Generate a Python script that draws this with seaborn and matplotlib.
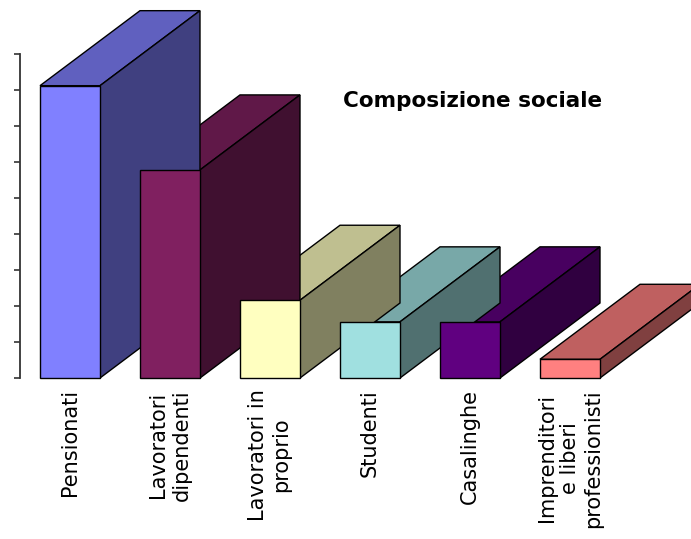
import matplotlib
matplotlib.use("Agg")
import matplotlib.pyplot as plt
import seaborn as sns
import pandas as pd
from matplotlib.patches import Polygon

categories = ["Pensionati", "Lavoratori\ndipendenti", "Lavoratori in\nproprio",
              "Studenti", "Casalinghe", "Imprenditori\ne liberi\nprofessionisti"]
values = [40.6, 28.9, 10.8, 7.8, 7.8, 2.6]
front_colors = ["#8080FF", "#802060", "#FFFFC0", "#A0E0E0", "#600080", "#FF8080"]
y_ticks = [0, 5, 10, 15, 20, 25, 30, 35, 40, 45]
title = "Composizione sociale"

sns.set_theme(style="white")
plt.rcParams["font.family"] = ["DejaVu Sans"]

W, H = 691, 539
fig = plt.figure(figsize=(W / 100, H / 100), dpi=100)
ax = fig.add_axes([20 / W, (H - 378) / H, (W - 20) / W, 324 / H])

df = pd.DataFrame({"cat": categories, "val": values})
sns.barplot(data=df, x="cat", y="val", hue="cat", palette=front_colors,
            width=0.6, edgecolor="black", linewidth=1.0, legend=False,
            saturation=1, ax=ax)

ax.set_xlim(-0.5, (W - 70) / 100)
ax.set_ylim(0, 45)

# depth offset (data units)
dx = 1.0
dy = 75 / (36 / 5)


def shade(c, f):
    r, g, b = matplotlib.colors.to_rgb(c)
    return (r * f, g * f, b * f)


for i, p in enumerate(list(ax.patches)):
    x0 = p.get_x()
    w = p.get_width()
    h = p.get_height()
    col = front_colors[i]
    z = 30 - 2 * i
    p.set_zorder(50)
    p.set_clip_on(False)
    top = Polygon([(x0, h), (x0 + w, h), (x0 + w + dx, h + dy), (x0 + dx, h + dy)],
                  closed=True, facecolor=shade(col, 0.75), edgecolor="black",
                  linewidth=1.0, zorder=z, clip_on=False)
    side = Polygon([(x0 + w, 0), (x0 + w + dx, dy), (x0 + w + dx, h + dy), (x0 + w, h)],
                   closed=True, facecolor=shade(col, 0.5), edgecolor="black",
                   linewidth=1.0, zorder=z + 1, clip_on=False)
    ax.add_patch(top)
    ax.add_patch(side)

ax.set_yticks(y_ticks)
ax.set_yticklabels([])
ax.tick_params(axis="y", direction="out", length=4.5, width=1.2, color="#333333", left=True)
ax.tick_params(axis="x", length=0, pad=8, labelsize=15)
for lbl in ax.get_xticklabels():
    lbl.set_rotation(90)
    lbl.set_va("top")
    lbl.set_ha("center")
    lbl.set_multialignment("center")
    lbl.set_color("black")

ax.set_xlabel("")
ax.set_ylabel("")
for s in ["top", "right", "bottom"]:
    ax.spines[s].set_visible(False)
ax.spines["left"].set_color("#333333")
ax.spines["left"].set_linewidth(1.3)
ax.set_facecolor("none")

fig.text(473 / W, 1 - 101 / H, title, ha="center", va="center",
         fontsize=15.5, fontweight="bold", color="black")

fig.savefig("out.png", dpi=100)
